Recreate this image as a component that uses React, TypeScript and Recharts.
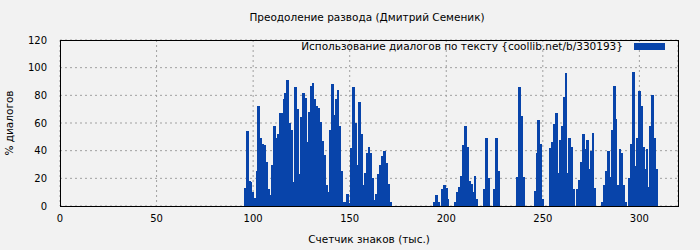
import { BarChart, Bar, XAxis, YAxis, CartesianGrid } from 'recharts';

const title = 'Преодоление развода (Дмитрий Семеник)';
const seriesName = 'Использование диалогов по тексту {coollib.net/b/330193}';
const xLabel = 'Счетчик знаков (тыс.)';
const yLabel = '% диалогов';

const xTicks = [0, 50, 100, 150, 200, 250, 300];
const yTicks = [0, 20, 40, 60, 80, 100, 120];

// first thousand-chars position of the series, one value per 1k chars
const firstK = 96;
// percent of dialogue per thousand chars
const dialogPct = [
  13, 54, 18, 17, 10, 6, 25, 72, 49, 45, 44, 32, 12, 8, 30, 58, 49, 52, 67, 67,
  77, 82, 91, 60, 55, 17, 86, 70, 23, 64, 82, 78, 46, 68, 87, 89, 77, 72, 71, 61,
  47, 37, 15, 10, 55, 88, 66, 77, 84, 58, 25, 3, 3, 9, 2, 42, 86, 60, 30, 75,
  52, 15, 24, 38, 43, 38, 20, 4, 9, 23, 30, 36, 40, 31, 16, 3,
  0, 0, 0, 0, 0, 0, 0, 0, 0, 0, 0, 0, 0, 0, 0, 0, 0, 0, 0, 0, 0, 0,
  3, 8, 3, 0, 12, 15, 13, 5, 0, 0, 0, 3, 10, 14, 22, 44, 58, 43, 18, 16,
  10, 22, 5, 0, 0, 0, 12, 49, 20, 0, 0, 12, 49, 25,
  0, 0, 0, 0, 0, 0, 0, 0, 0, 21, 86, 65, 21, 0, 0, 0, 0, 0,
  11, 38, 62, 45, 5, 0, 0, 0, 42, 46, 59, 67, 24, 48, 58, 79, 96, 24, 49, 43,
  12, 0, 12, 19, 32, 52, 41, 48, 27, 40, 53, 13, 0, 0, 0, 3, 15, 25, 40, 21,
  55, 87, 63, 15, 41, 38, 15, 3, 0, 20, 45, 97, 29, 49, 83, 72, 43, 27, 41, 14,
  58, 80, 49, 27,
];

const data = dialogPct.map((v, i) => ({ k: firstK + i, pct: v }));

const BLUE = '#0844aa';
const FONT = '"DejaVu Sans", sans-serif';

// snap each bar to whole pixels so neighbouring bars don't leave light seams
function SnappedBar(props: any) {
  const { x, y, width, height } = props;
  if (!height || height <= 0) return null;
  const x0 = Math.floor(x);
  const x1 = Math.ceil(x + width);
  const y0 = Math.round(y);
  const y1 = Math.round(y + height);
  if (y1 <= y0) return null;
  return <rect x={x0} y={y0} width={x1 - x0} height={y1 - y0} fill={BLUE} />;
}

export default function App() {
  return (
    <div
      style={{
        position: 'absolute',
        left: 0,
        top: 0,
        width: 700,
        height: 250,
        background: '#f2f2f2',
        fontFamily: FONT,
        color: '#000',
      }}
    >
      <div style={{ position: 'absolute', left: 0, width: 700, top: 11, textAlign: 'center', fontSize: 10.5, paddingLeft: 34, boxSizing: 'border-box' }}>
        {title}
      </div>
      <BarChart
        width={700}
        height={250}
        data={data}
        margin={{ top: 40, right: 22, bottom: 14, left: 0 }}
        barCategoryGap={0}
        barGap={0}
      >
        <CartesianGrid stroke="#a0a0a0" strokeDasharray="2 3" />
        <XAxis
          type="number"
          dataKey="k"
          height={30}
          domain={[0, 320]}
          ticks={xTicks}
          allowDataOverflow
          tickLine={false}
          axisLine={false}
          tickMargin={3}
          tick={{ fontSize: 10, fill: '#000', fontFamily: FONT }}
        />
        <YAxis
          width={60}
          domain={[0, 120]}
          ticks={yTicks}
          tickLine={false}
          axisLine={false}
          tickMargin={7}
          tick={{ fontSize: 10, fill: '#000', fontFamily: FONT }}
        />
        <Bar dataKey="pct" fill={BLUE} barSize={2} shape={SnappedBar} isAnimationActive={false} />
      </BarChart>
      <div
        style={{
          position: 'absolute',
          left: 60,
          top: 40,
          width: 619,
          height: 167,
          border: '1px solid #000',
          boxSizing: 'border-box',
          pointerEvents: 'none',
        }}
      />
      <div style={{ position: 'absolute', right: 35, top: 40, display: 'flex', alignItems: 'center', fontSize: 10.5 }}>
        <span>{seriesName}</span>
        <span style={{ display: 'inline-block', width: 31, height: 7, background: BLUE, marginLeft: 11 }} />
      </div>
      <div style={{ position: 'absolute', left: 60, width: 618, top: 233, textAlign: 'center', fontSize: 10.5 }}>
        {xLabel}
      </div>
      <div
        style={{
          position: 'absolute',
          left: 9,
          top: 123,
          transform: 'translate(-50%, -50%) rotate(-90deg)',
          whiteSpace: 'nowrap',
          fontSize: 10.5,
        }}
      >
        {yLabel}
      </div>
    </div>
  );
}
